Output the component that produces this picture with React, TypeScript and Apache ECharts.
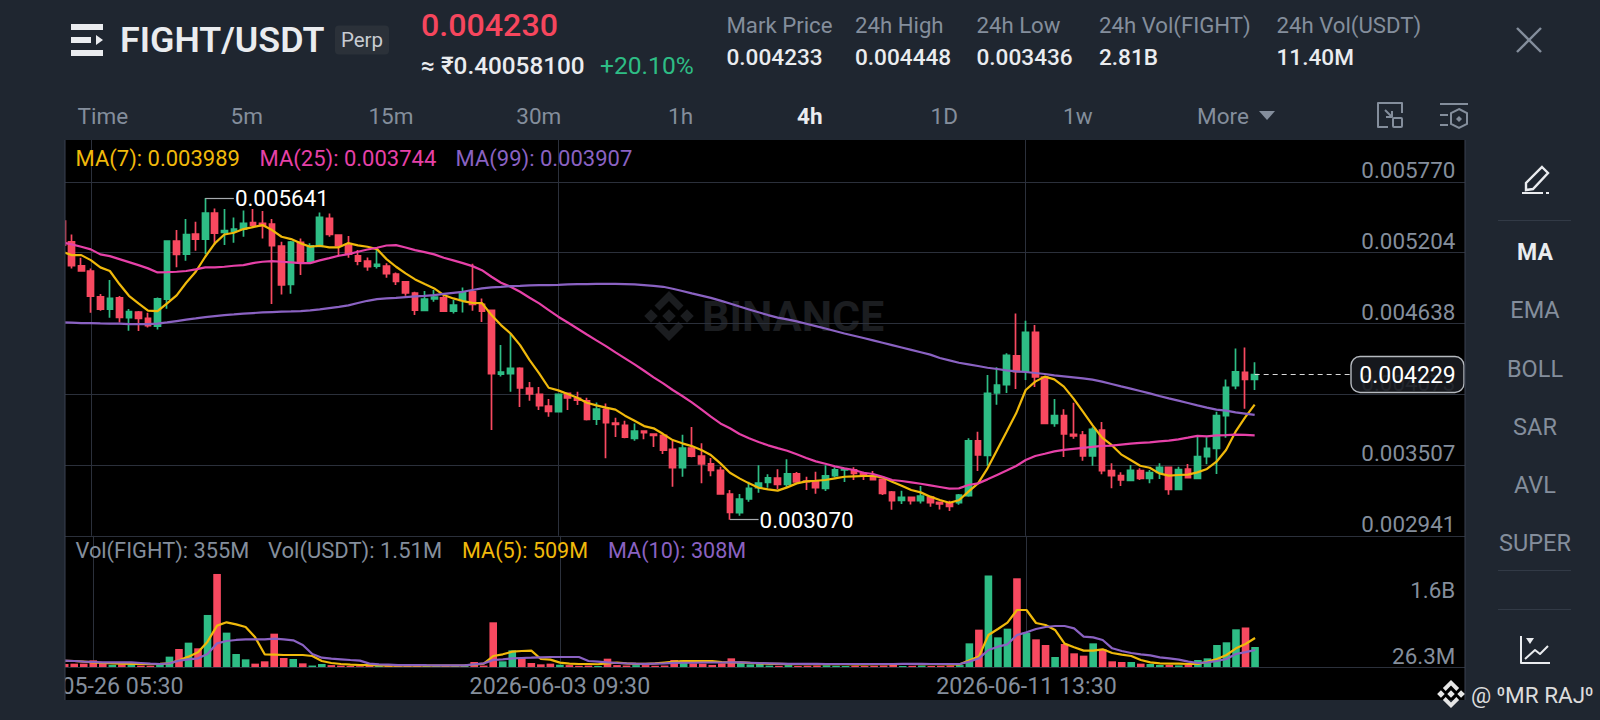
import React, { useEffect, useRef } from "react";
import * as echarts from "echarts";

// All price arrays are in millionths of USDT (1 = 0.000001), candle index runs from the clipped first candle to the last.
const UNIT = 1e-6;
const opens = [5456,5291,5099,5057,4851,4753,4843,4684,4729,4678,4617,4833,5296,5192,5352,5312,5520,5365,5376,5392,5443,5437,5432,5256,4950,5286,5131,5254,5477,5344,5264,5179,
5136,5096,5096,5032,4971,4881,4742,4835,4843,4737,4822,4891,4790,4742,4233,4236,4279,4122,4071,3978,3933,4079,4039,4020,3874,3951,3842,3823,3720,
3778,3754,3744,3632,3485,3642,3578,3515,3464,3275,3126,3235,3325,3368,3403,3352,3437,3379,3373,3320,3421,3467,3469,3437,3419,3392,3291,3224,3248,3222,3251,3208,3205,3205,
3262,3699,3584,4082,4149,4380,4255,4567,4210,3840,3901,3752,3746,3579,3786,3462,3422,3384,3462,3400,3448,3488,3312,3475,3400,3573,3640,3901,4141,4247,4191];
const closes = [5264,5099,5057,4857,4753,4838,4686,4732,4678,4620,4835,5296,5190,5349,5312,5520,5360,5379,5392,5437,5424,5419,5259,4947,5288,5136,5259,5485,5349,5259,5192,5136,
5091,5110,5035,4974,4883,4745,4833,4849,4737,4785,4886,4790,4737,4236,4249,4279,4122,4074,3981,3935,4071,4044,4026,3871,3954,3845,3831,3730,3778,
3765,3744,3626,3485,3642,3578,3515,3464,3275,3128,3235,3320,3363,3405,3352,3437,3371,3373,3325,3421,3469,3475,3440,3421,3389,3280,3222,3248,3222,3259,3206,3195,3175,3267,
3699,3587,4079,4146,4383,4252,4567,4210,3840,3901,3755,3739,3579,3792,3462,3422,3387,3464,3400,3446,3488,3312,3470,3406,3573,3640,3901,4127,4252,4191,4229];
const lows = [5264,5078,5051,4724,4740,4684,4646,4580,4577,4606,4590,4756,5088,5139,5219,5190,5264,5264,5283,5331,5411,5317,4793,4870,4875,5025,5118,5251,5331,5184,5163,5104,
5059,5078,5003,4945,4859,4705,4742,4811,4732,4718,4726,4739,4649,3786,4215,4092,3970,4020,3946,3893,3933,3946,3986,3863,3826,3560,3730,3720,3700,
3712,3650,3594,3333,3413,3568,3360,3416,3270,3070,3102,3214,3286,3325,3315,3325,3368,3307,3278,3299,3408,3371,3387,3387,3387,3267,3150,3195,3192,3200,3174,3152,3140,3190,
3254,3459,3501,3989,4082,4114,4186,4130,3840,3813,3571,3717,3541,3501,3432,3320,3339,3379,3387,3360,3395,3270,3307,3398,3395,3512,3435,3725,4113,3956,4106];
const highs = [5456,5349,5163,5078,4873,4985,4857,4753,4737,4724,4846,5301,5384,5472,5451,5641,5557,5552,5485,5541,5552,5536,5472,5291,5296,5317,5278,5525,5517,5349,5336,5224,
5166,5224,5120,5046,4971,4891,4897,4905,4859,4825,4926,5115,4838,4742,4465,4558,4287,4170,4130,4034,4079,4087,4092,4044,4007,3999,3885,3861,3839,
3781,3760,3746,3701,3749,3810,3680,3563,3493,3307,3275,3373,3504,3432,3472,3552,3451,3413,3453,3504,3488,3480,3488,3453,3459,3400,3299,3302,3248,3339,3251,3214,3222,3275,
3720,3773,4226,4287,4399,4718,4660,4625,4218,4034,3952,4005,3778,3808,3850,3520,3448,3507,3480,3467,3520,3493,3493,3515,3738,3728,3933,4191,4438,4446,4327];

const ma7 = [5211,5184,5184,5144,5086,5057,4953,4859,4798,4740,4737,4798,4862,4963,5051,5171,5278,5349,5363,5392,5408,5424,5384,5331,5312,5278,5251,5259,5246,5246,5280,5262,
5251,5232,5152,5091,5038,4990,4953,4918,4865,4838,4817,4803,4801,4705,4625,4558,4465,4345,4239,4124,4103,4074,4044,4004,3983,3965,3949,3901,3861,
3818,3800,3754,3706,3680,3658,3626,3586,3520,3445,3400,3360,3325,3312,3302,3328,3360,3376,3381,3387,3400,3413,3416,3419,3419,3408,3373,3341,3307,3288,3254,3227,
3205,3225,3294,3360,3480,3627,3773,3920,4106,4173,4213,4191,4133,4039,3933,3826,3725,3667,3592,3547,3501,3485,3440,3422,3427,3430,3448,3475,3533,3627,3773,3887,3989];
const ma25 = [5286,5270,5251,5230,5190,5176,5152,5128,5104,5078,5046,5048,5051,5057,5070,5086,5086,5091,5099,5104,5120,5131,5136,5131,5126,5120,5120,5142,5160,5179,5192,5211,
5229,5243,5261,5264,5245,5224,5208,5190,5163,5142,5120,5096,5064,5011,4963,4931,4891,4843,4798,4745,4692,4646,4598,4550,4503,4457,4407,4359,4311,
4260,4207,4159,4106,4058,4007,3951,3893,3839,3800,3754,3720,3690,3664,3642,3621,3592,3563,3536,3517,3496,3480,3467,3445,3435,3413,3387,3379,3368,3357,3344,3331,
3318,3320,3347,3360,3392,3427,3462,3499,3547,3579,3597,3616,3627,3635,3643,3651,3659,3661,3669,3677,3683,3688,3696,3701,3712,3725,3739,3736,3744,3746,3749,3747,3744];
const ma99 = [4646,4644,4641,4641,4638,4636,4636,4633,4633,4633,4636,4646,4657,4668,4678,4689,4697,4705,4710,4716,4721,4726,4729,4732,4734,4737,4742,4750,4761,4771,4782,4801,
4819,4833,4838,4843,4849,4854,4859,4865,4875,4883,4891,4905,4918,4926,4931,4937,4939,4942,4945,4945,4947,4950,4953,4953,4955,4955,4955,4953,4950,4945,4939,4931,
4915,4897,4878,4860,4842,4820,4797,4773,4750,4727,4705,4685,4670,4655,4636,4617,4598,4578,4558,4540,4522,4503,4484,4465,4446,4427,4408,4389,4362,
4343,4324,4311,4298,4284,4274,4263,4255,4250,4242,4234,4223,4215,4207,4199,4189,4173,4154,4135,4117,4098,4079,4058,4039,4021,4002,3983,3965,3949,3941,3928,3918,3907];

// Volume in millions of FIGHT
const volumes = [95,104,104,181,120,75,90,70,60,55,110,266,443,590,459,1231,2180,822,327,204,104,158,798,235,212,111,60,96,70,60,50,45,
60,55,50,60,55,70,55,50,60,50,55,142,60,1061,158,412,227,119,88,104,80,70,55,60,50,219,70,60,70,70,
55,60,189,181,111,104,75,111,227,127,88,127,60,55,70,50,55,60,65,55,50,55,50,55,60,119,50,55,60,50,55,60,70,
574,891,2142,713,914,2080,822,667,536,258,559,343,289,574,436,158,142,142,104,96,72,72,65,72,189,227,536,598,899,941,489];
const volMa5 = [170,165,150,134,119,111,104,100,96,92,100,111,181,266,366,613,984,1061,1014,953,713,320,312,304,304,304,281,165,119,96,80,73,
70,65,60,58,58,58,58,58,58,58,65,80,104,281,320,381,397,405,212,196,127,104,96,96,90,111,127,111,100,100,
110,130,150,165,165,165,165,140,130,135,120,110,100,100,95,90,90,90,90,90,90,88,88,90,90,95,96,96,95,92,90,88,88,
181,266,767,906,1053,1346,1346,1045,999,883,567,482,405,405,436,350,312,281,188,134,111,104,104,96,96,150,212,304,459,558,697];
const volMa10 = [175,165,150,142,134,134,134,134,119,104,96,111,173,204,227,327,574,628,652,667,667,667,682,667,644,536,327,242,219,204,188,173,
104,88,80,72,72,72,68,65,65,65,65,88,111,188,204,227,235,242,250,258,258,258,258,165,150,134,119,111,104,100,
105,110,120,125,125,130,130,130,135,135,125,115,110,105,100,100,100,98,96,96,96,96,96,96,96,96,98,98,98,96,96,96,96,
150,227,420,497,551,767,829,906,953,976,976,922,729,713,652,459,397,350,320,296,250,227,196,150,119,134,165,212,327,370,420];

const priceTicks = [0.00577, 0.005204, 0.004638, 0.004073, 0.003507, 0.002941];
const volumeTicks = [26.3, 1600];
const axisDateIndex = [3, 52, 101];
const startDate = Date.UTC(2026, 4, 25, 17, 30);
const HOUR = 3600000;
const pad = (n: number) => String(n).padStart(2, "0");
const categories = Array.from({ length: 148 }, (_, i) => {
  const d = new Date(startDate + i * 4 * HOUR);
  return `${d.getUTCFullYear()}-${pad(d.getUTCMonth() + 1)}-${pad(d.getUTCDate())} ${pad(d.getUTCHours())}:${pad(d.getUTCMinutes())}`;
});

const tabs: [string, number][] = [["Time", 77.5], ["5m", 230.6], ["15m", 368.4], ["30m", 516.3], ["1h", 668], ["1D", 930.6], ["1w", 1063], ["More", 1197]];
const stats: [string, string, number][] = [["Mark Price", "0.004233", 726.5], ["24h High", "0.004448", 855], ["24h Low", "0.003436", 976.5], ["24h Vol(FIGHT)", "2.81B", 1099], ["24h Vol(USDT)", "11.40M", 1276.5]];
const sideItems: [string, number][] = [["MA", 252], ["EMA", 310], ["BOLL", 368.5], ["SAR", 426.5], ["AVL", 484.7], ["SUPER", 543]];

const PAGE = "#1f2630";
const GREEN = "#2ebd85";
const RED = "#f84960";
const YELLOW = "#f0b90b";
const PINK = "#e641a8";
const PURPLE = "#8a62c2";
const GRID = "#2b303b";
const GREY = "#848e9c";
const WHITE = "#eaecef";
const FONT = "Roboto, sans-serif";

const txt = (text: string, x: number, y: number, fill: string, size: number, weight = 400, align = "left", z = 60) => ({
  type: "text",
  z,
  style: { text, x, y, fill, font: `${weight} ${size}px ${FONT}`, textAlign: align, textVerticalAlign: "middle" },
});
const rect = (x: number, y: number, width: number, height: number, fill: string, z = 60, r = 0) => ({
  type: "rect",
  z,
  shape: { x, y, width, height, r },
  style: { fill },
});
const stroke = (points: number[][], color: string, width = 2, z = 60) => ({
  type: "polyline",
  z,
  shape: { points },
  style: { stroke: color, fill: "none", lineWidth: width, lineJoin: "round" },
});
const poly = (points: number[][], fill: string, z = 60) => ({ type: "polygon", z, shape: { points }, style: { fill } });

function logo(cx: number, cy: number, r: number, fill: string, z: number) {
  const d = (x: number, y: number, s: number) => poly([[x, y - s], [x + s, y], [x, y + s], [x - s, y]], fill, z);
  const a = r * 0.27;
  const top = poly([[cx, cy - r], [cx + r * 0.58, cy - r * 0.42], [cx + r * 0.38, cy - r * 0.22], [cx, cy - r * 0.6], [cx - r * 0.38, cy - r * 0.22], [cx - r * 0.58, cy - r * 0.42]], fill, z);
  const bottom = poly([[cx, cy + r], [cx + r * 0.58, cy + r * 0.42], [cx + r * 0.38, cy + r * 0.22], [cx, cy + r * 0.6], [cx - r * 0.38, cy + r * 0.22], [cx - r * 0.58, cy + r * 0.42]], fill, z);
  return [top, bottom, d(cx, cy, a), d(cx - r * 0.72, cy, a), d(cx + r * 0.72, cy, a)];
}

function buildOption() {
  const candle = opens.map((o, i) => [o * UNIT, closes[i] * UNIT, lows[i] * UNIT, highs[i] * UNIT]);
  const priceLine = (name: string, values: number[], color: string) => ({
    name,
    type: "line",
    xAxisIndex: 0,
    yAxisIndex: 0,
    data: values.map((v) => v * UNIT),
    showSymbol: false,
    lineStyle: { color, width: 2.2 },
    z: 4,
    silent: true,
  });
  const volLine = (name: string, values: number[], color: string) => ({
    name,
    type: "line",
    xAxisIndex: 1,
    yAxisIndex: 1,
    data: values,
    showSymbol: false,
    lineStyle: { color, width: 2.2 },
    z: 4,
    silent: true,
  });
  const xBase = {
    type: "category",
    data: categories,
    axisTick: { show: false },
    splitLine: {
      show: true,
      alignWithLabel: true,
      interval: (i: number) => axisDateIndex.includes(i),
      lineStyle: { color: GRID, width: 1 },
    },
  };
  const callout = (from: number, to: number, value: number, label: string) => [
    {
      coord: [from, value],
      lineStyle: { color: "#a6a9ae", width: 1.2, type: "solid" },
      label: { show: true, position: "end", formatter: label, color: "#ffffff", fontSize: 22.4, fontFamily: FONT, distance: 1 },
    },
    { coord: [to, value] },
  ];
  const bg = [rect(0, 140, 1465, 560, "#000000", -5)];
  const mid = [
    txt("BINANCE", 702, 316, "#1b1d20", 43, 700, "left", -4),
    ...logo(669, 316, 25, "#1b1d20", -4),
  ];
  const mask = [
    rect(0, 0, 65, 720, PAGE, 50),
    rect(1465, 0, 135, 720, PAGE, 50),
    rect(0, 700, 1600, 20, PAGE, 50),
    rect(0, 0, 1600, 140, PAGE, 50),
    { type: "line", z: 51, shape: { x1: 65, y1: 140, x2: 65, y2: 700 }, style: { stroke: "#3a4150", lineWidth: 1 } },
    { type: "line", z: 51, shape: { x1: 1465, y1: 140, x2: 1465, y2: 700 }, style: { stroke: "#3a4150", lineWidth: 1 } },
  ];
  const header = [
    rect(71, 24, 32, 6, WHITE),
    rect(71, 37, 20, 6, WHITE),
    rect(71, 50, 32, 6, WHITE),
    poly([[96, 35], [103, 40], [96, 45]], WHITE),
    txt("FIGHT/USDT", 120, 40, WHITE, 35.8, 600),
    rect(335, 25.5, 54, 29, "#2b3139", 60, 4),
    txt("Perp", 362, 40, "#c8ccd2", 20.5, 400, "center"),
    txt("0.004230", 421, 24.5, "#f6465d", 32.2, 500),
    txt("≈ ₹0.40058100", 421, 65.5, WHITE, 24.3, 500),
    txt("+20.10%", 600, 65.5, GREEN, 24.6, 400),
    ...stats.flatMap(([label, value, x]) => [txt(label, x, 25, GREY, 22.2), txt(value, x, 57, WHITE, 22.6, 500)]),
    stroke([[1517, 28], [1541, 52]], GREY, 2.4),
    stroke([[1541, 28], [1517, 52]], GREY, 2.4),
    ...tabs.map(([label, x]) => txt(label, x, 116, GREY, 22.5)),
    txt("4h", 797, 116, WHITE, 22.5, 700),
    poly([[1259, 111], [1275, 111], [1267, 120]], GREY),
    stroke([[1388, 127], [1378, 127], [1378, 103], [1402, 103], [1402, 113]], GREY, 2),
    stroke([[1385, 110], [1392, 117]], GREY, 2),
    stroke([[1386, 117], [1392, 117], [1392, 111]], GREY, 2),
    { type: "rect", z: 60, shape: { x: 1393, y: 118, width: 9, height: 9, r: 1 }, style: { fill: "none", stroke: GREY, lineWidth: 2 } },
    stroke([[1440, 104], [1468, 104]], GREY, 2),
    stroke([[1440, 115], [1448, 115]], GREY, 2),
    stroke([[1440, 125], [1448, 125]], GREY, 2),
    { type: "polygon", z: 60, shape: { points: [[1459, 109], [1467, 113], [1467, 124], [1459, 128], [1451, 124], [1451, 113]] }, style: { fill: "none", stroke: GREY, lineWidth: 2 } },
    poly([[1459, 116], [1462, 119], [1459, 122], [1456, 119]], GREY),
  ];
  const side = [
    { type: "polygon", z: 60, shape: { points: [[1542, 167], [1548, 173], [1533, 189], [1526, 190], [1526, 183]] }, style: { fill: "none", stroke: WHITE, lineWidth: 2.4 } },
    stroke([[1522, 193], [1543, 193]], WHITE, 2),
    stroke([[1546, 193], [1549, 193]], WHITE, 2),
    rect(1498, 220, 73, 1, "#323a46"),
    rect(1498, 570, 73, 1, "#323a46"),
    rect(1498, 609, 73, 1, "#323a46"),
    ...sideItems.map(([label, y], i) => txt(label, 1535, y, i === 0 ? WHITE : GREY, i === 0 ? 23 : 23.5, i === 0 ? 700 : 400, "center")),
    stroke([[1521, 636], [1521, 663], [1550, 663]], WHITE, 2),
    stroke([[1525, 659], [1535, 650], [1540, 654], [1548, 646]], WHITE, 2),
    poly([[1526, 638], [1534, 638], [1530, 644]], WHITE),
  ];
  const legends = [
    txt("MA(7): 0.003989", 75.5, 158.5, YELLOW, 22, 400, "left", 30),
    txt("MA(25): 0.003744", 259.5, 158.5, PINK, 22, 400, "left", 30),
    txt("MA(99): 0.003907", 455.5, 158.5, PURPLE, 22, 400, "left", 30),
    txt("Vol(FIGHT): 355M", 75.5, 550, GREY, 21.8, 400, "left", 30),
    txt("Vol(USDT): 1.51M", 268, 550, GREY, 22, 400, "left", 30),
    txt("MA(5): 509M", 462, 550, YELLOW, 21.6, 400, "left", 30),
    txt("MA(10): 308M", 608, 550, PURPLE, 21.6, 400, "left", 30),
  ];
  const lastBox = [
    { type: "rect", z: 40, shape: { x: 1351, y: 356.5, width: 113, height: 36, r: 9 }, style: { fill: "rgba(24,27,32,0.9)", stroke: "#b6bac0", lineWidth: 1.4 } },
    txt("0.004229", 1407.5, 375, "#ffffff", 23, 400, "center", 41),
  ];
  const foot = [
    ...logo(1451, 694, 14, "#e6e6e6", 61),
    txt("@ ⁰MR RAJ⁰", 1471, 695, "#dcdcdc", 22.5, 400, "left", 61),
  ];

  return {
    animation: false,
    backgroundColor: PAGE,
    textStyle: { fontFamily: FONT },
    grid: [
      { left: 57.39, width: 1411.92, top: 140, height: 395.8 },
      { left: 57.39, width: 1411.92, top: 535.8, height: 131.2 },
    ],
    xAxis: [
      { ...xBase, gridIndex: 0, axisLine: { show: false }, axisLabel: { show: false } },
      {
        ...xBase,
        gridIndex: 1,
        axisLine: { show: true, lineStyle: { color: GRID, width: 1 } },
        axisLabel: {
          show: true,
          interval: (i: number) => axisDateIndex.includes(i),
          color: GREY,
          fontSize: 23.2,
          fontFamily: FONT,
          margin: 7,
          hideOverlap: false,
        },
      },
    ],
    yAxis: [
      {
        type: "value",
        gridIndex: 0,
        position: "right",
        min: 0.002941,
        max: 0.006104,
        axisLine: { show: false },
        axisTick: { show: false, customValues: priceTicks },
        splitLine: { show: true, lineStyle: { color: GRID, width: 1 } },
        axisLabel: {
          show: true,
          inside: true,
          customValues: priceTicks,
          margin: 14,
          color: GREY,
          fontSize: 22.4,
          fontFamily: FONT,
          verticalAlign: "bottom",
          lineHeight: 23,
          formatter: (v: number) => v.toFixed(6),
        },
      },
      {
        type: "value",
        gridIndex: 1,
        position: "right",
        min: 26.3,
        max: 3063.6,
        axisLine: { show: false },
        axisTick: { show: false, customValues: volumeTicks },
        splitLine: { show: false },
        axisLabel: {
          show: true,
          inside: true,
          customValues: volumeTicks,
          margin: 14,
          color: GREY,
          fontSize: 22.4,
          fontFamily: FONT,
          verticalAlign: "bottom",
          lineHeight: 23,
          formatter: (v: number) => (v < 1000 ? `${v}M` : `{high|${v / 1000}B}`),
          rich: { high: { lineHeight: 18, color: GREY, fontSize: 22.4, fontFamily: FONT } },
        },
      },
    ],
    series: [
      {
        name: "FIGHT/USDT",
        type: "candlestick",
        xAxisIndex: 0,
        yAxisIndex: 0,
        data: candle,
        barWidth: 6.2,
        itemStyle: { color: GREEN, color0: RED, borderColor: GREEN, borderColor0: RED, borderWidth: 1.7 },
        silent: true,
        z: 3,
        markLine: {
          silent: true,
          symbol: ["none", "none"],
          z: 5,
          data: [
            callout(15, 18, 0.005641, "0.005641"),
            callout(70, 73, 0.00307, "0.003070"),
            [
              { coord: [125, 0.004229], lineStyle: { color: "#d8d8d8", width: 1, type: [5, 4] }, label: { show: false } },
              { coord: [135, 0.004229] },
            ],
          ],
        },
      },
      priceLine("MA(7)", ma7, YELLOW),
      priceLine("MA(25)", ma25, PINK),
      priceLine("MA(99)", ma99, PURPLE),
      {
        name: "Vol(FIGHT)",
        type: "bar",
        xAxisIndex: 1,
        yAxisIndex: 1,
        barWidth: 7.6,
        silent: true,
        z: 3,
        data: volumes.map((v, i) => ({ value: v, itemStyle: { color: closes[i] >= opens[i] ? GREEN : RED } })),
      },
      volLine("MA(5)", volMa5, YELLOW),
      volLine("MA(10)", volMa10, PURPLE),
    ],
    graphic: { elements: [...bg, ...mid, ...mask, ...header, ...side, ...legends, ...lastBox, ...foot] },
  };
}

export default function App() {
  const ref = useRef<HTMLDivElement>(null);
  useEffect(() => {
    document.body.style.margin = "0";
    const chart = echarts.init(ref.current!, undefined, { renderer: "svg" });
    chart.setOption(buildOption() as any);
    return () => chart.dispose();
  }, []);
  return <div ref={ref} style={{ width: 1600, height: 720 }} />;
}
